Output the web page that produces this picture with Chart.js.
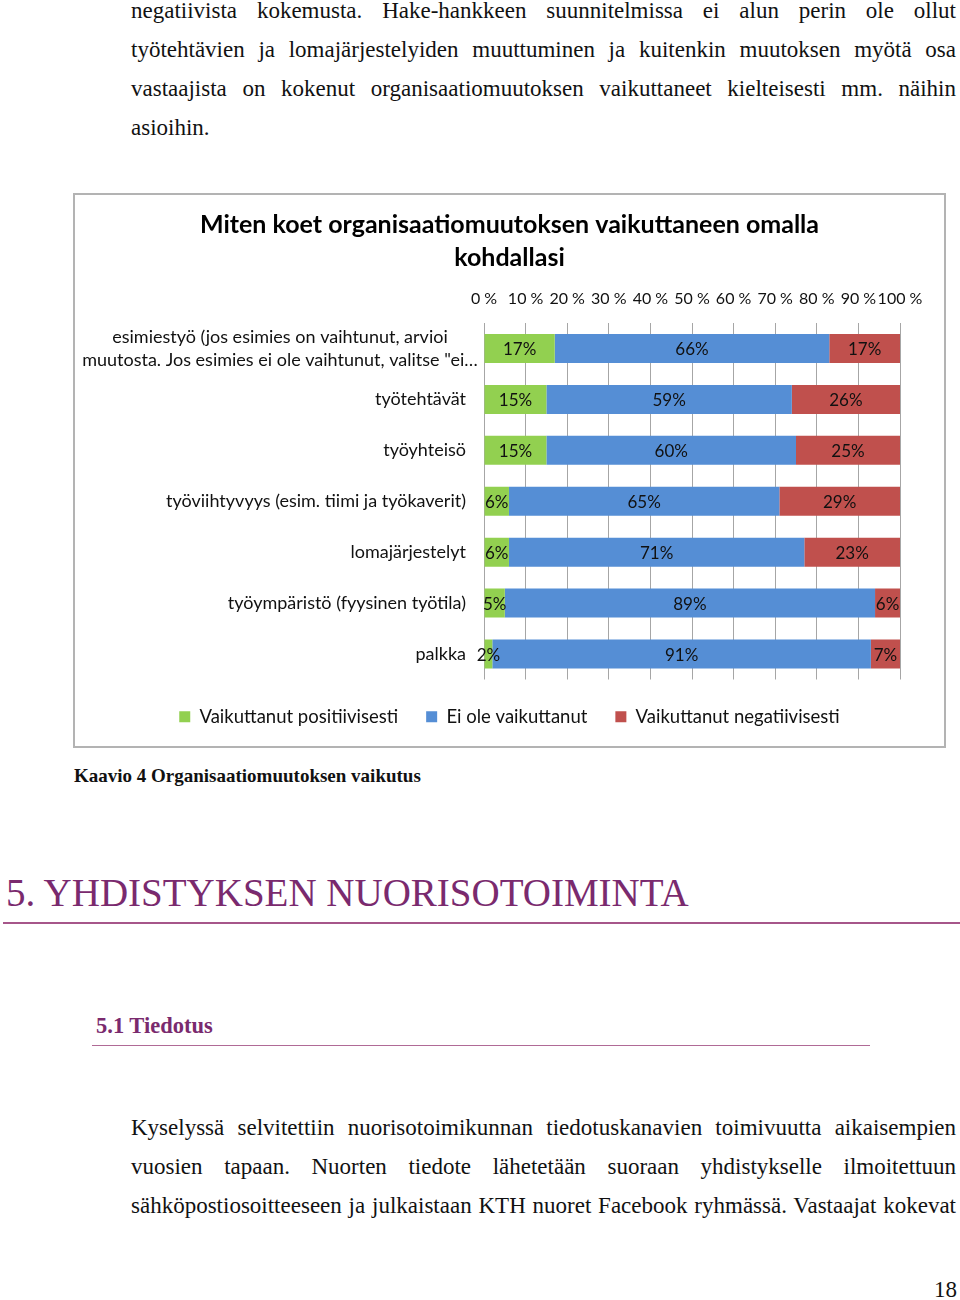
<!DOCTYPE html>
<html>
<head>
<meta charset="utf-8">
<script src="https://cdn.jsdelivr.net/npm/chart.js@4.4.1/dist/chart.umd.min.js"></script>
<style>
html,body{margin:0;padding:0;background:#fff;}
body{position:relative;width:960px;height:1300px;overflow:hidden;}
.ln{position:absolute;left:131px;width:825px;height:39px;line-height:39px;font-family:"Liberation Serif","Times New Roman",serif;font-size:23px;color:#111;white-space:nowrap;text-align:justify;text-align-last:justify;}
.ln.last{text-align:left;text-align-last:left;}
#box{position:absolute;left:73px;top:193px;width:869px;height:551px;border:2px solid #b3b3b3;}
#cv{position:absolute;left:75px;top:195px;}
#cap{position:absolute;left:74px;top:764px;font-family:"Liberation Serif","Times New Roman",serif;font-weight:bold;font-size:19px;line-height:24px;color:#111;}
#h1{position:absolute;left:6px;top:868px;font-family:"Liberation Serif","Times New Roman",serif;font-size:39px;line-height:50px;color:#7a2a6e;white-space:nowrap;}
#h1line{position:absolute;left:3px;top:922px;width:957px;height:2px;background:#a6568a;}
#h2{position:absolute;left:96px;top:1012px;font-family:"Liberation Serif","Times New Roman",serif;font-weight:bold;font-size:22.5px;line-height:28px;color:#7a2a6e;white-space:nowrap;}
#h2line{position:absolute;left:92px;top:1045px;width:778px;height:1px;background:#b06a96;}
#pg{position:absolute;left:934px;top:1277px;font-family:"Liberation Serif","Times New Roman",serif;font-size:23px;line-height:26px;color:#111;}
</style>
</head>
<body>
<div class="ln" style="top:-9.5px">negatiivista kokemusta. Hake-hankkeen suunnitelmissa ei alun perin ole ollut</div>
<div class="ln" style="top:29.5px">työtehtävien ja lomajärjestelyiden muuttuminen ja kuitenkin muutoksen myötä osa</div>
<div class="ln" style="top:68.5px">vastaajista on kokenut organisaatiomuutoksen vaikuttaneet kielteisesti mm. näihin</div>
<div class="ln last" style="top:107.5px">asioihin.</div>

<div id="box"></div>
<canvas id="cv" width="869" height="541"></canvas>

<div id="cap">Kaavio 4 Organisaatiomuutoksen vaikutus</div>
<div id="h1">5. YHDISTYKSEN NUORISOTOIMINTA</div>
<div id="h1line"></div>
<div id="h2">5.1 Tiedotus</div>
<div id="h2line"></div>

<div class="ln" style="top:1107.5px">Kyselyssä selvitettiin nuorisotoimikunnan tiedotuskanavien toimivuutta aikaisempien</div>
<div class="ln" style="top:1146.5px">vuosien tapaan. Nuorten tiedote lähetetään suoraan yhdistykselle ilmoitettuun</div>
<div class="ln" style="top:1185.5px">sähköpostiosoitteeseen ja julkaistaan KTH nuoret Facebook ryhmässä. Vastaajat kokevat</div>
<div id="pg">18</div>

<script>
const chartTitle = ['Miten koet organisaatiomuutoksen vaikuttaneen omalla', 'kohdallasi'];
const categories = [
  ['esimiestyö (jos esimies on vaihtunut, arvioi', 'muutosta. Jos esimies ei ole vaihtunut, valitse "ei…'],
  'työtehtävät',
  'työyhteisö',
  'työviihtyvyys (esim. tiimi ja työkaverit)',
  'lomajärjestelyt',
  'työympäristö (fyysinen työtila)',
  'palkka'
];
const seriesNames = ['Vaikuttanut positiivisesti', 'Ei ole vaikuttanut', 'Vaikuttanut negatiivisesti'];
const positive = [17, 15, 15, 6, 6, 5, 2];
const noEffect = [66, 59, 60, 65, 71, 89, 91];
const negative = [17, 26, 25, 29, 23, 6, 7];
const tickSuffix = ' %';
const seriesColors = ['#92d050', '#558ed5', '#c0504d'];

const FONT = 'Lato, "Open Sans", sans-serif';

const yLabelPlugin = {
  id: 'yLabels',
  afterDraw(chart) {
    const ctx = chart.ctx;
    const ys = chart.scales.y;
    const rightX = chart.chartArea.left - 18;
    ctx.save();
    ctx.font = '18px ' + FONT;
    ctx.fillStyle = '#111';
    ctx.textBaseline = 'middle';
    categories.forEach((lab, i) => {
      const y = ys.getPixelForValue(i);
      if (Array.isArray(lab)) {
        ctx.textAlign = 'center';
        const cx = 205;
        const lh = 23;
        lab.forEach((line, j) => {
          ctx.fillText(line, cx, y + (j - (lab.length - 1) / 2) * lh);
        });
      } else {
        ctx.textAlign = 'right';
        ctx.fillText(lab, rightX, y);
      }
    });
    ctx.restore();
  }
};

const dataLabelPlugin = {
  id: 'dataLabels',
  afterDatasetsDraw(chart) {
    const ctx = chart.ctx;
    ctx.save();
    ctx.font = '17px ' + FONT;
    ctx.fillStyle = '#111';
    ctx.textAlign = 'center';
    ctx.textBaseline = 'middle';
    chart.data.datasets.forEach((ds, di) => {
      const meta = chart.getDatasetMeta(di);
      meta.data.forEach((el, i) => {
        const v = ds.data[i];
        const x = (el.x + el.base) / 2;
        ctx.fillText(v + '%', x, el.y + 1);
      });
    });
    ctx.restore();
  }
};

new Chart(document.getElementById('cv'), {
  type: 'bar',
  data: {
    labels: categories,
    datasets: [
      { label: seriesNames[0], data: positive, backgroundColor: seriesColors[0] },
      { label: seriesNames[1], data: noEffect, backgroundColor: seriesColors[1] },
      { label: seriesNames[2], data: negative, backgroundColor: seriesColors[2] }
    ]
  },
  options: {
    indexAxis: 'y',
    responsive: false,
    animation: false,
    layout: { padding: 0 },
    datasets: { bar: { barPercentage: 0.57, categoryPercentage: 1 } },
    scales: {
      x: {
        position: 'top',
        stacked: true,
        min: 0,
        max: 100,
        ticks: {
          stepSize: 10,
          autoSkip: false,
          maxRotation: 0,
          padding: 15,
          color: '#111',
          font: { family: FONT, size: 16 },
          callback: v => v + tickSuffix
        },
        grid: { color: '#a6a6a6', lineWidth: 1, drawTicks: false },
        border: { display: false },
        afterFit(s) { s.height = 44.5; }
      },
      y: {
        stacked: true,
        ticks: { display: false },
        grid: { display: false },
        border: { display: false },
        afterFit(s) { s.width = 409; }
      },
      yRight: {
        axis: 'y',
        position: 'right',
        display: true,
        ticks: { display: false },
        grid: { display: false },
        border: { display: false },
        afterFit(s) { s.width = 44; }
      }
    },
    plugins: {
      title: {
        display: true,
        text: chartTitle,
        color: '#000',
        font: { family: FONT, size: 25, weight: 'bold', lineHeight: '33px' },
        padding: { top: 13.5, bottom: 4 }
      },
      legend: {
        position: 'bottom',
        labels: {
          boxWidth: 11,
          boxHeight: 11,
          padding: 28,
          color: '#111',
          font: { family: FONT, size: 18.5 }
        }
      },
      tooltip: { enabled: false }
    }
  },
  plugins: [yLabelPlugin, dataLabelPlugin]
});
</script>
</body>
</html>
